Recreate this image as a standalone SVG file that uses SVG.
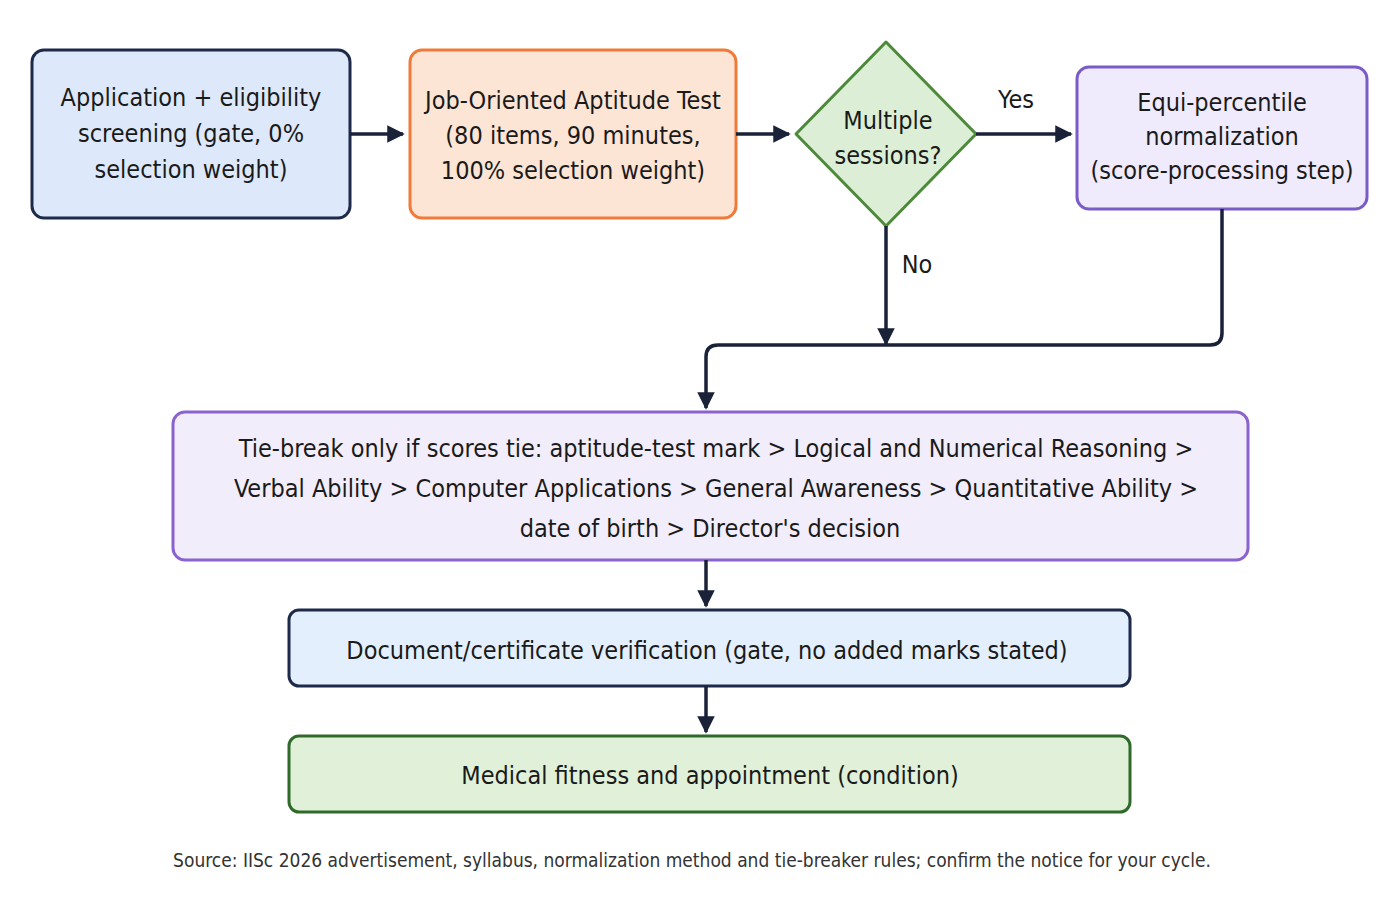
<svg xmlns="http://www.w3.org/2000/svg" width="1400" height="900" viewBox="0 0 1400 900">
<defs>
<marker id="ah" viewBox="0 0 10 10" refX="9" refY="5" markerWidth="5" markerHeight="5" orient="auto"><path d="M0,0 L10,5 L0,10 z" fill="#1a2238"/></marker>
<style>
text{font-family:"DejaVu Sans Condensed","Liberation Sans",sans-serif;fill:#1a1a1a;text-anchor:middle;font-size:25px}
.c{fill:none;stroke:#1a2238;stroke-width:3.5;marker-end:url(#ah)}
.src{font-size:19px;fill:#333}
</style>
</defs>
<rect width="1400" height="900" fill="#fff"/>
<g id="n1"><rect x="32" y="50" width="318" height="168" rx="12" fill="#dde9fb" stroke="#1e2a4a" stroke-width="3"/>
<text x="191" y="106">Application + eligibility</text><text x="191" y="142">screening (gate, 0%</text><text x="191" y="178">selection weight)</text></g>
<g id="n2"><rect x="410" y="50" width="326" height="168" rx="12" fill="#fde5d6" stroke="#f07a3a" stroke-width="3"/>
<text x="573" y="109">Job-Oriented Aptitude Test</text><text x="573" y="144">(80 items, 90 minutes,</text><text x="573" y="179">100% selection weight)</text></g>
<g id="n3"><path d="M886,42 L976,134 L886,226 L796,134 Z" fill="#dcefd6" stroke="#4c8a3a" stroke-width="3" stroke-linejoin="round"/>
<text x="888" y="129">Multiple</text><text x="888" y="164">sessions?</text></g>
<g id="n4"><rect x="1077" y="67" width="290" height="142" rx="12" fill="#efeafc" stroke="#7b5cc7" stroke-width="3"/>
<text x="1222" y="111">Equi-percentile</text><text x="1222" y="145">normalization</text><text x="1222" y="179">(score-processing step)</text></g>
<g id="n5"><rect x="173" y="412" width="1075" height="148" rx="12" fill="#f2edfb" stroke="#8a63cf" stroke-width="3"/>
<text x="716" y="457">Tie-break only if scores tie: aptitude-test mark &gt; Logical and Numerical Reasoning &gt;</text>
<text x="716" y="497">Verbal Ability &gt; Computer Applications &gt; General Awareness &gt; Quantitative Ability &gt;</text>
<text x="710" y="537">date of birth &gt; Director's decision</text></g>
<g id="n6"><rect x="289" y="610" width="841" height="76" rx="10" fill="#e3effc" stroke="#1e2a4a" stroke-width="3"/>
<text x="707" y="659">Document/certificate verification (gate, no added marks stated)</text></g>
<g id="n7"><rect x="289" y="736" width="841" height="76" rx="10" fill="#e1f1d9" stroke="#2f6a2a" stroke-width="3"/>
<text x="710" y="784">Medical fitness and appointment (condition)</text></g>
<g id="connectors">
<path class="c" d="M350,134 H403"/>
<path class="c" d="M736,134 H789"/>
<path class="c" d="M976,134 H1071"/>
<path class="c" d="M886,226 V344"/>
<path class="c" d="M1222,209 V333 Q1222,345 1210,345 H718 Q706,345 706,357 V408"/>
<path class="c" d="M706,560 V606"/>
<path class="c" d="M706,686 V732"/>
<text x="1016" y="108">Yes</text>
<text x="917" y="273">No</text>
</g>
<text class="src" x="692" y="867">Source:  IISc 2026 advertisement, syllabus, normalization method and tie-breaker rules; confirm the notice for your cycle.</text>
</svg>
